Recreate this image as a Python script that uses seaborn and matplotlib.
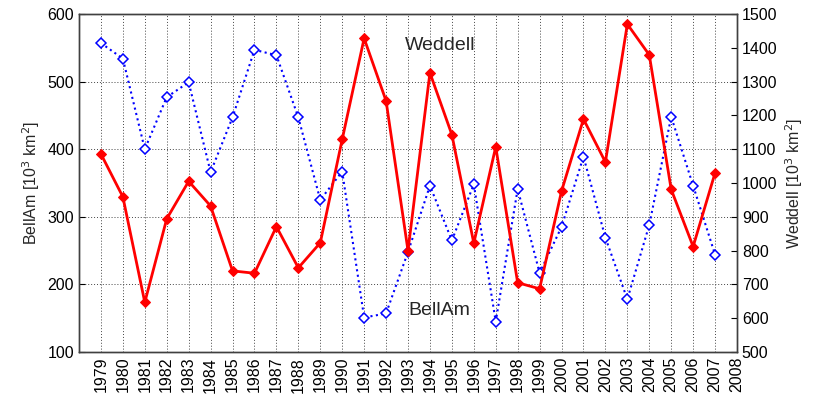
import numpy as np
import pandas as pd
import seaborn as sns
from matplotlib import pyplot as plt

years = list(range(1979, 2008))

# left axis, blue dotted
bellam = [557, 534, 400, 477, 499, 366, 447, 547, 539, 447,
          325, 367, 151, 157, 248, 346, 265, 348, 145, 341,
          217, 285, 389, 269, 178, 288, 448, 346, 244]

# right axis, red solid
weddell = [1086, 959, 647, 894, 1005, 932, 740, 733, 871, 749,
           823, 1129, 1428, 1243, 800, 1326, 1143, 822, 1107, 705,
           687, 976, 1189, 1062, 1470, 1379, 981, 812, 1030]

left_ticks = [100, 200, 300, 400, 500, 600]
right_ticks = list(range(500, 1501, 100))
x_ticks = list(range(1979, 2009))

sns.set_style("white")
plt.rcParams['font.family'] = ['Liberation Sans', 'DejaVu Sans']
plt.rcParams['font.size'] = 11.5

df = pd.DataFrame({'year': years, 'BellAm': bellam, 'Weddell': weddell})

fig, ax = plt.subplots(figsize=(8.22, 4), dpi=100)
fig.subplots_adjust(left=0.0961, right=0.8966, top=0.965, bottom=0.12)

sns.lineplot(data=df, x='year', y='BellAm', ax=ax, color='blue',
             linestyle=':', linewidth=1.5, marker='D', markersize=5,
             markerfacecolor='white', markeredgecolor='blue',
             markeredgewidth=1.1, zorder=3)
ax.set_xlim(1978, 2008)
ax.set_ylim(100, 600)
ax.set_yticks(left_ticks)
ax.set_xticks(x_ticks)
ax.set_xticklabels([str(y) for y in x_ticks], rotation=90)
ax.set_xlabel('')
ax.set_ylabel('BellAm [10$^3$ km$^2$]')
ax.grid(True, color='#444444', linestyle=(0, (1, 2)), linewidth=0.7)
ax.tick_params(direction='in', length=4, colors='black', labelsize=11.5)

ax2 = ax.twinx()
sns.lineplot(data=df, x='year', y='Weddell', ax=ax2, color='red',
             linestyle='-', linewidth=2, marker='D', markersize=5,
             markerfacecolor='red', markeredgecolor='red', zorder=3)
ax2.set_ylim(500, 1500)
ax2.set_yticks(right_ticks)
ax2.set_ylabel('Weddell [10$^3$ km$^2$]')
ax2.tick_params(direction='in', length=4, colors='black', labelsize=11.5)
ax2.set_xlim(1978, 2008)

for a in (ax, ax2):
    for s in a.spines.values():
        s.set_visible(True)
        s.set_color('#404040')
        s.set_linewidth(1)

ax2.text(1994.45, 1408, 'Weddell', fontsize=14, ha='center', va='center')
ax2.text(1994.45, 624, 'BellAm', fontsize=14, ha='center', va='center')

fig.savefig('out.png', dpi=100)
